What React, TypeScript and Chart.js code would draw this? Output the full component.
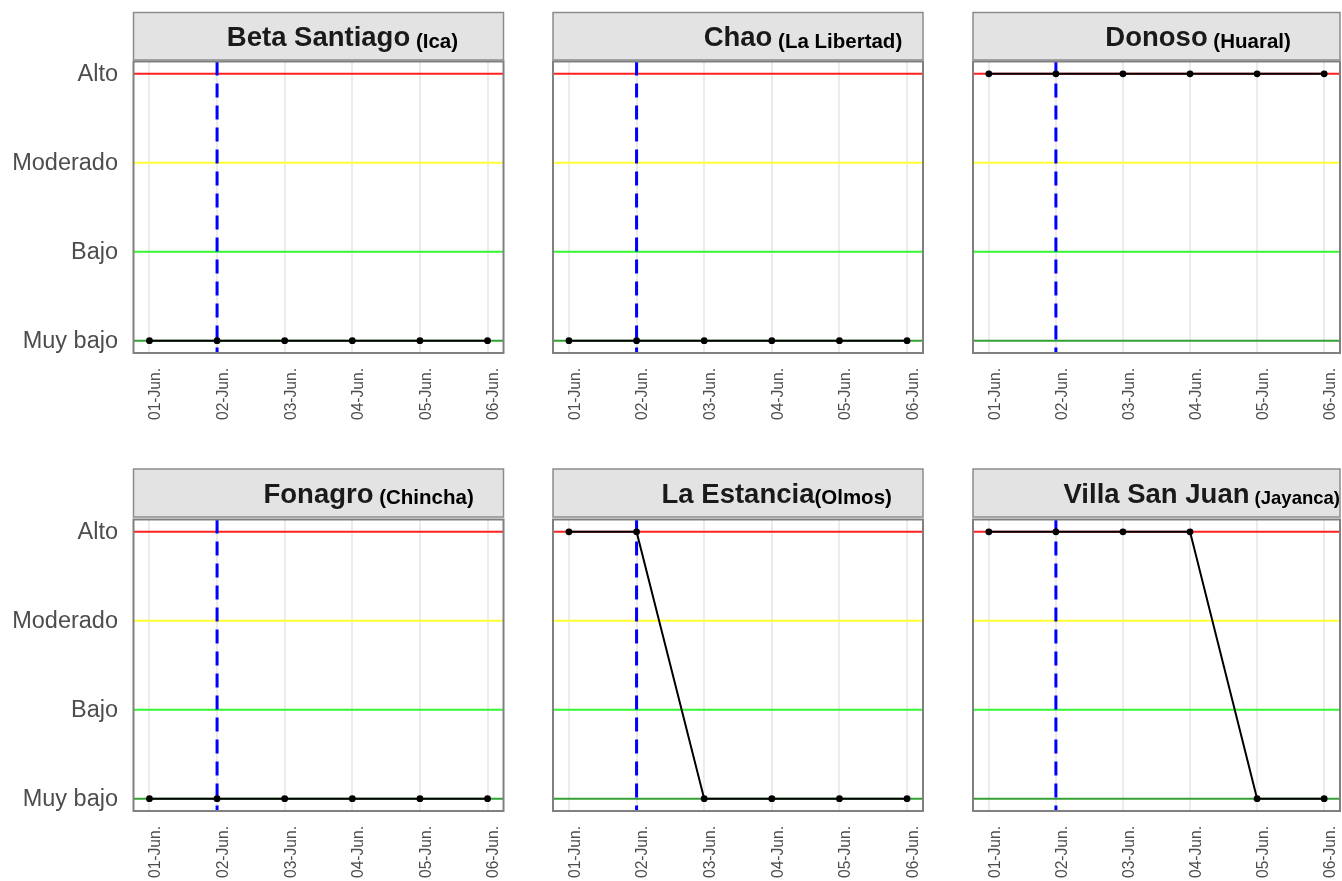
import React, { useEffect, useRef } from "react";
import { Chart, registerables } from "chart.js";
Chart.register(...registerables);

const dates = ["01-Jun.", "02-Jun.", "03-Jun.", "04-Jun.", "05-Jun.", "06-Jun."];
const levels = ["Muy bajo", "Bajo", "Moderado", "Alto"];
const levelValues = [1, 2, 3, 4];
const levelColors = ["#33A033", "#33F533", "#FFFF33", "#FF2020"];
const currentDayIndex = 1;

const titles = ["Beta Santiago", "Chao", "Donoso", "Fonagro", "La Estancia", "Villa San Juan"];
const subtitles = [" (Ica)", " (La Libertad)", " (Huaral)", " (Chincha)", "(Olmos)", " (Jayanca)"];
const subtitleSizes = [20.5, 20.5, 20.5, 20.5, 20.5, 18.5];

const betaSantiago = [1, 1, 1, 1, 1, 1];
const chao = [1, 1, 1, 1, 1, 1];
const donoso = [4, 4, 4, 4, 4, 4];
const fonagro = [1, 1, 1, 1, 1, 1];
const laEstancia = [4, 4, 1, 1, 1, 1];
const villaSanJuan = [4, 4, 4, 4, 1, 1];
const seriesList = [betaSantiago, chao, donoso, fonagro, laEstancia, villaSanJuan];

const W = 1344;
const H = 881;
const colLefts = [133.5, 553, 973];
const plotW = 370;
const rowTops = [61.5, 519.5];
const plotH = 291.5;
const stripTops = [12.5, 469];
const stripBottoms = [60, 517];
const FONT = "'Liberation Sans', Arial, sans-serif";

function Panel({ idx }: { idx: number }) {
  const ref = useRef<HTMLCanvasElement | null>(null);
  useEffect(() => {
    const row = Math.floor(idx / 3);
    const col = idx % 3;
    const left = colLefts[col];
    const top = rowTops[row];
    const values = seriesList[idx];

    const panelPlugin = {
      id: "panelPlugin" + idx,
      beforeDatasetsDraw(chart: any) {
        const ctx = chart.ctx;
        const xs = chart.scales.x;
        const ys = chart.scales.y;
        const a = chart.chartArea;
        ctx.save();
        levelValues.forEach((v, i) => {
          const y = ys.getPixelForValue(v);
          ctx.strokeStyle = levelColors[i];
          ctx.lineWidth = 2;
          ctx.beginPath();
          ctx.moveTo(a.left, y);
          ctx.lineTo(a.right, y);
          ctx.stroke();
        });
        const bx = xs.getPixelForValue(currentDayIndex);
        ctx.strokeStyle = "#0000FF";
        ctx.lineWidth = 3;
        ctx.setLineDash([14, 8]);
        ctx.beginPath();
        ctx.moveTo(bx, a.top);
        ctx.lineTo(bx, a.bottom);
        ctx.stroke();
        ctx.restore();
      },
      afterDraw(chart: any) {
        const ctx = chart.ctx;
        const xs = chart.scales.x;
        const ys = chart.scales.y;
        const a = chart.chartArea;
        ctx.save();
        ctx.strokeStyle = "#808080";
        ctx.lineWidth = 2;
        ctx.strokeRect(a.left, a.top, a.right - a.left, a.bottom - a.top);
        const sT = stripTops[row];
        const sB = stripBottoms[row];
        ctx.fillStyle = "#E3E3E3";
        ctx.fillRect(a.left, sT, a.right - a.left, sB - sT);
        ctx.strokeStyle = "#8C8C8C";
        ctx.lineWidth = 1.5;
        ctx.strokeRect(a.left, sT, a.right - a.left, sB - sT);
        const cx = (a.left + a.right) / 2;
        const base = (sT + sB) / 2 + 9.9;
        ctx.font = `bold 27.5px ${FONT}`;
        ctx.fillStyle = "#1A1A1A";
        ctx.textBaseline = "alphabetic";
        ctx.textAlign = "center";
        ctx.fillText(titles[idx], cx, base);
        const tw = ctx.measureText(titles[idx]).width;
        ctx.font = `bold ${subtitleSizes[idx]}px ${FONT}`;
        ctx.fillStyle = "#000000";
        ctx.textAlign = "left";
        ctx.fillText(subtitles[idx], cx + tw / 2, base + 1.5);
        if (col === 0) {
          ctx.font = `23.5px ${FONT}`;
          ctx.fillStyle = "#4D4D4D";
          ctx.textAlign = "right";
          ctx.textBaseline = "middle";
          levelValues.forEach((v, i) => {
            ctx.fillText(levels[i], a.left - 15.5, ys.getPixelForValue(v) + 1);
          });
        }
        ctx.font = `15.6px ${FONT}`;
        ctx.fillStyle = "#4D4D4D";
        dates.forEach((d, i) => {
          const x = xs.getPixelForValue(i);
          ctx.save();
          ctx.translate(x + 6.5, a.bottom + 15);
          ctx.rotate(-Math.PI / 2);
          ctx.textAlign = "right";
          ctx.textBaseline = "middle";
          ctx.fillText(d, 0, 0);
          ctx.restore();
        });
        ctx.restore();
      },
    };

    const chart = new Chart(ref.current as HTMLCanvasElement, {
      type: "line",
      data: {
        datasets: [
          {
            data: values.map((v, i) => ({ x: i, y: v })),
            borderColor: "#000000",
            backgroundColor: "#000000",
            borderWidth: 2,
            pointRadius: 3.4,
            pointBorderWidth: 0,
            tension: 0,
          },
        ],
      },
      options: {
        animation: false,
        responsive: false,
        devicePixelRatio: 1,
        layout: {
          padding: { left: left, top: top, right: W - left - plotW, bottom: H - top - plotH },
        },
        plugins: { legend: { display: false }, tooltip: { enabled: false }, title: { display: false } },
        scales: {
          x: {
            type: "linear",
            min: -0.236,
            max: 5.236,
            afterBuildTicks: (s: any) => {
              s.ticks = dates.map((_, i) => ({ value: i }));
            },
            afterFit: (s: any) => {
              s.height = 0;
            },
            ticks: { display: false },
            grid: { color: "#EBEBEB", lineWidth: 2, drawTicks: false },
            border: { display: false },
          },
          y: {
            type: "linear",
            min: 0.862,
            max: 4.138,
            display: false,
          },
        },
      },
      plugins: [panelPlugin],
    } as any);
    return () => chart.destroy();
  }, [idx]);
  return (
    <canvas
      ref={ref}
      width={W}
      height={H}
      style={{ position: "absolute", left: 0, top: 0, width: W, height: H }}
    />
  );
}

export default function App() {
  return (
    <div
      style={{
        position: "absolute",
        left: 0,
        top: 0,
        width: 1342,
        height: H,
        overflow: "hidden",
        background: "#FFFFFF",
      }}
    >
      {titles.map((_, i) => (
        <Panel key={i} idx={i} />
      ))}
    </div>
  );
}
